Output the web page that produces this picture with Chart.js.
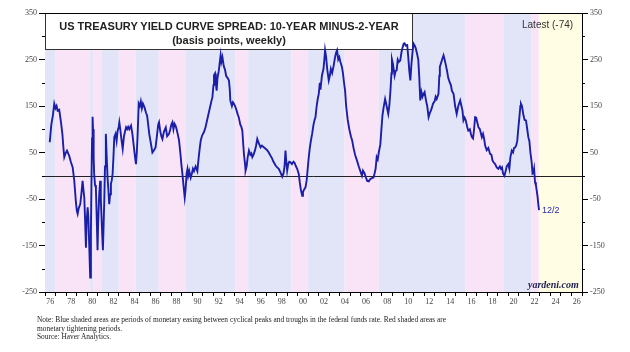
<!DOCTYPE html>
<html><head><meta charset="utf-8">
<script src="https://cdn.jsdelivr.net/npm/chart.js@4.4.0/dist/chart.umd.min.js"></script>
<style>
html,body{margin:0;padding:0;background:#fff;width:630px;height:352px;overflow:hidden}
#wrap{position:relative;width:630px;height:352px}
canvas{position:absolute;left:0;top:0}
.t{position:absolute;white-space:nowrap}
#titlebox{position:absolute;left:45px;top:13px;width:368px;height:37px;box-sizing:border-box;font-family:"Liberation Sans",Arial,sans-serif;font-weight:bold;font-size:11px;text-align:center;line-height:14px;color:#222;padding-top:6px}
#latest{left:522px;top:19px;font-family:"Liberation Sans",Arial,sans-serif;font-size:10px;color:#333}
#last{left:542px;top:205px;font-family:"Liberation Sans",Arial,sans-serif;font-size:9px;color:#2b2ba8}
#yard{left:528px;top:279px;font-family:"Liberation Serif","Times New Roman",serif;font-size:10px;font-weight:bold;font-style:italic;color:#1e1e50}
#note{left:37px;top:316px;font-family:"Liberation Serif","Times New Roman",serif;font-size:7.4px;line-height:8.6px;color:#222}
</style></head>
<body><div id="wrap">
<canvas id="c" width="630" height="352"></canvas>
<div id="titlebox">US TREASURY YIELD CURVE SPREAD: 10-YEAR MINUS-2-YEAR<br>(basis points, weekly)</div>
<div class="t" id="latest">Latest (-74)</div>
<div class="t" id="last">12/2</div>
<div class="t" id="yard">yardeni.com</div>
<div class="t" id="note">Note: Blue shaded areas are periods of monetary easing between cyclical peaks and troughs in the federal funds rate. Red shaded areas are<br>monetary tightening periods.<br>Source: Haver Analytics.</div>
</div>
<script>
// ---- data ----
const weeks = [1976.45,1976.6,1976.75,1976.88,1977.0,1977.1,1977.2,1977.35,1977.52,1977.65,1977.75,1977.83,1977.95,1978.09,1978.2,1978.3,1978.45,1978.63,1978.78,1978.94,1979.02,1979.1,1979.2,1979.35,1979.45,1979.57,1979.65,1979.73,1979.8,1979.89,1979.95,1980.05,1980.12,1980.2,1980.29,1980.36,1980.42,1980.47,1980.52,1980.56,1980.62,1980.67,1980.75,1980.83,1980.9,1980.99,1981.05,1981.15,1981.24,1981.3,1981.37,1981.44,1981.5,1981.56,1981.63,1981.7,1981.78,1981.86,1981.94,1982.02,1982.1,1982.18,1982.26,1982.34,1982.42,1982.5,1982.58,1982.7,1982.8,1982.9,1983.0,1983.06,1983.15,1983.25,1983.38,1983.5,1983.6,1983.7,1983.8,1983.9,1984.0,1984.17,1984.3,1984.45,1984.55,1984.64,1984.72,1984.8,1984.9,1985.0,1985.1,1985.2,1985.3,1985.45,1985.6,1985.7,1985.8,1985.9,1986.05,1986.2,1986.35,1986.5,1986.6,1986.75,1986.83,1986.95,1987.05,1987.15,1987.3,1987.47,1987.6,1987.78,1987.9,1988.0,1988.1,1988.2,1988.3,1988.4,1988.5,1988.6,1988.73,1988.85,1988.95,1989.05,1989.15,1989.27,1989.35,1989.45,1989.53,1989.6,1989.7,1989.84,1989.95,1990.05,1990.15,1990.3,1990.47,1990.6,1990.7,1990.79,1990.9,1991.0,1991.1,1991.25,1991.4,1991.57,1991.7,1991.8,1991.9,1992.0,1992.05,1992.15,1992.22,1992.3,1992.38,1992.5,1992.58,1992.68,1992.75,1992.85,1992.95,1993.0,1993.1,1993.2,1993.35,1993.47,1993.55,1993.6,1993.75,1993.85,1993.94,1994.05,1994.2,1994.3,1994.4,1994.55,1994.65,1994.74,1994.82,1994.9,1995.0,1995.05,1995.15,1995.25,1995.37,1995.5,1995.6,1995.69,1995.8,1995.95,1996.05,1996.16,1996.3,1996.47,1996.6,1996.75,1996.95,1997.1,1997.25,1997.42,1997.55,1997.7,1997.9,1998.05,1998.2,1998.35,1998.53,1998.65,1998.75,1998.84,1998.9,1999.0,1999.1,1999.2,1999.32,1999.45,1999.6,1999.7,1999.8,1999.95,2000.1,2000.2,2000.3,2000.43,2000.5,2000.6,2000.74,2000.85,2000.95,2001.05,2001.15,2001.25,2001.37,2001.5,2001.6,2001.69,2001.8,2001.9,2002.0,2002.1,2002.16,2002.3,2002.45,2002.55,2002.6,2002.7,2002.8,2002.95,2003.05,2003.15,2003.27,2003.4,2003.55,2003.65,2003.74,2003.85,2003.95,2004.05,2004.2,2004.3,2004.4,2004.5,2004.6,2004.75,2004.9,2005.05,2005.17,2005.3,2005.45,2005.64,2005.8,2005.95,2006.1,2006.2,2006.35,2006.5,2006.6,2006.75,2006.9,2007.05,2007.2,2007.3,2007.4,2007.5,2007.6,2007.7,2007.85,2007.95,2008.05,2008.16,2008.3,2008.4,2008.48,2008.6,2008.7,2008.8,2008.9,2008.95,2009.05,2009.2,2009.3,2009.4,2009.5,2009.6,2009.74,2009.85,2009.95,2010.06,2010.15,2010.25,2010.4,2010.5,2010.6,2010.7,2010.8,2010.9,2011.0,2011.1,2011.2,2011.33,2011.45,2011.55,2011.64,2011.75,2011.85,2011.95,2012.05,2012.2,2012.3,2012.43,2012.55,2012.65,2012.75,2012.85,2013.0,2013.1,2013.2,2013.37,2013.45,2013.5,2013.65,2013.85,2013.95,2014.05,2014.17,2014.3,2014.45,2014.55,2014.64,2014.8,2014.95,2015.1,2015.25,2015.43,2015.55,2015.65,2015.74,2015.85,2015.95,2016.1,2016.2,2016.35,2016.45,2016.54,2016.65,2016.75,2016.85,2016.95,2017.05,2017.17,2017.3,2017.49,2017.6,2017.7,2017.8,2017.95,2018.1,2018.27,2018.4,2018.5,2018.6,2018.75,2018.9,2019.05,2019.2,2019.3,2019.4,2019.5,2019.63,2019.75,2019.85,2020.0,2020.1,2020.2,2020.33,2020.45,2020.55,2020.65,2020.75,2020.85,2020.96,2021.05,2021.15,2021.2,2021.3,2021.44,2021.55,2021.68,2021.8,2021.9,2022.0,2022.1,2022.22,2022.3,2022.38,2022.45,2022.54,2022.62,2022.7,2022.78,2022.85,2022.92];
const spread = [72,110,130,155,145,150,140,142,115,90,60,40,48,54,48,43,30,18,-11,-58,-75,-82,-70,-61,-40,-11,-30,-47,-90,-155,-100,-68,-90,-150,-219,-120,0,80,127,100,40,4,-20,-25,-80,-160,-100,-40,-11,-50,-90,-130,-160,-110,-54,20,90,40,-4,-30,-61,-40,-17,-10,4,40,83,90,75,97,105,115,100,80,58,85,95,104,100,105,100,108,90,60,40,25,50,90,155,150,160,145,155,147,135,129,110,90,70,50,55,61,80,110,115,95,85,79,95,104,85,90,100,110,115,100,112,108,100,90,76,50,25,4,-20,-47,-30,5,14,0,10,-4,5,15,10,20,10,40,60,76,85,90,94,105,120,137,150,160,169,195,216,220,200,183,210,225,240,259,245,255,240,234,228,215,210,205,185,162,150,158,155,150,140,132,126,110,105,97,70,45,25,11,20,40,54,45,48,40,45,55,65,79,70,61,65,62,58,55,50,43,38,30,22,18,15,8,-2,5,20,54,35,11,25,30,29,25,30,28,22,15,4,-15,-30,-43,-35,-30,-25,-10,15,40,60,75,90,110,120,126,150,165,176,200,185,215,230,255,270,255,230,205,215,230,221,235,255,265,270,250,255,245,234,220,200,183,150,120,100,85,76,60,45,32,20,10,0,11,5,-5,-11,-12,-7,-5,-4,5,15,40,35,50,68,100,130,147,165,155,155,133,150,180,220,250,240,215,225,227,250,245,248,265,275,284,285,280,281,255,225,205,240,265,284,280,275,263,250,210,162,180,170,176,180,160,150,126,135,140,147,155,160,170,165,176,215,234,245,259,250,240,227,210,200,195,183,176,150,133,150,162,150,140,119,125,120,105,97,100,90,83,80,100,126,125,115,104,100,83,90,80,65,55,60,47,45,33,29,25,18,15,20,15,18,5,0,10,20,25,15,40,54,50,60,61,65,75,104,125,150,155,150,130,120,119,100,83,75,50,29,5,7,15,-14,-20,-32,-45,-61,-74];
const bandStart = [1976.0,1977.0,1980.3,1980.6,1981.4,1983.0,1984.6,1986.8,1989.4,1994.1,1995.3,1999.4,2000.95,2004.45,2007.7,2015.9,2019.6,2022.2,2022.9];
const bandEnd   = [1977.0,1980.3,1980.6,1981.4,1983.0,1984.6,1986.8,1989.4,1994.1,1995.3,1999.4,2000.95,2004.45,2007.7,2015.9,2019.6,2022.2,2022.9,2027.0];
const bandKind  = ['ease','tight','ease','tight','ease','tight','ease','tight','ease','tight','ease','tight','ease','tight','ease','tight','ease','tight','future'];
const yearTicks = Array.from({length:52},(_,i)=>1976+i);
const xTickLabels = ['76','78','80','82','84','86','88','90','92','94','96','98','00','02','04','06','08','10','12','14','16','18','20','22','24','26'];
const yTickValues = [-250,-150,-50,50,150,250,350];
const yMinorValues = [-200,-100,0,100,200,300];

const bandColors = {ease:'rgb(226,228,248)', tight:'rgb(249,228,247)', future:'rgb(255,253,228)'};

const deco = {
  id:'deco',
  beforeDatasetsDraw(chart){
    const {ctx, chartArea:a, scales:{x,y}} = chart;
    ctx.save();
    for(let i=0;i<bandStart.length;i++){
      const x0 = Math.max(a.left, x.getPixelForValue(bandStart[i]));
      const x1 = Math.min(a.right, x.getPixelForValue(bandEnd[i]));
      ctx.fillStyle = bandColors[bandKind[i]];
      ctx.fillRect(x0, a.top, x1-x0, a.bottom-a.top);
    }
    const y0 = Math.round(y.getPixelForValue(0))+0.5;
    ctx.strokeStyle = '#222'; ctx.lineWidth = 1;
    ctx.beginPath(); ctx.moveTo(a.left,y0); ctx.lineTo(a.right,y0); ctx.stroke();
    // title box (under the data line)
    ctx.fillStyle = '#fff';
    ctx.fillRect(a.left, a.top, 368, 36);
    ctx.strokeStyle = '#333';
    ctx.strokeRect(a.left+0.5, a.top+0.5, 367, 36);
    ctx.restore();
  },
  afterDraw(chart){
    const {ctx, chartArea:a, scales:{y}} = chart;
    ctx.save();
    ctx.strokeStyle = '#000'; ctx.lineWidth = 1;
    ctx.beginPath(); ctx.moveTo(a.left, a.top+0.5); ctx.lineTo(a.right, a.top+0.5); ctx.stroke();
    for(const v of yMinorValues){
      const p = Math.round(y.getPixelForValue(v))+0.5;
      ctx.beginPath();
      ctx.moveTo(a.left-3,p); ctx.lineTo(a.left,p);
      ctx.moveTo(a.right,p); ctx.lineTo(a.right+3,p);
      ctx.stroke();
    }
    ctx.restore();
  }
};

const tickFont = {family:'"Liberation Serif","Times New Roman",serif', size:8};
const yAxis = (pos, w) => ({
  position: pos, min:-250, max:350,
  afterBuildTicks: s => { s.ticks = yTickValues.map(v=>({value:v})); },
  afterFit: s => { s.width = w; },
  ticks:{font:tickFont, color:'#444', padding:2},
  grid:{drawOnChartArea:false, drawTicks:true, tickLength:6, color:'#000'},
  border:{display:true, color:'#000', width:1}
});

new Chart(document.getElementById('c'), {
  type:'line',
  data:{ datasets:[{
    data: weeks.map((w,i)=>({x:w, y:spread[i]})),
    borderColor:'#1b1fa8', borderWidth:1.9, pointRadius:0, tension:0, fill:false, yAxisID:'y'
  }]},
  options:{
    responsive:false, animation:false, devicePixelRatio:1,
    layout:{padding:{top:13,left:0,right:0,bottom:0}},
    plugins:{legend:{display:false}, tooltip:{enabled:false}, title:{display:false}},
    scales:{
      x:{ type:'linear', min:1976, max:2027,
        afterBuildTicks: s => { s.ticks = yearTicks.map(v=>({value:v})); },
        afterFit: s => { s.height = 60; },
        ticks:{ autoSkip:false, maxRotation:0, minRotation:0, labelOffset:5.2, padding:1, font:tickFont, color:'#444',
          callback: v => (v%2===0 ? xTickLabels[(v-1976)/2] : '') },
        grid:{drawOnChartArea:false, drawTicks:true, tickLength:4, color:'#000'},
        border:{display:true, color:'#000', width:1}
      },
      y: yAxis('left',45),
      y2: yAxis('right',48)
    }
  },
  plugins:[deco]
});
</script>
</body></html>
